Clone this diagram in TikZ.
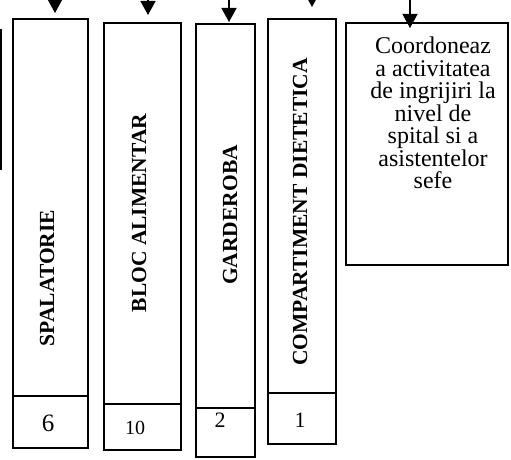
\documentclass[tikz,border=0pt]{standalone}
\usepackage{fontspec}
\setmainfont{Liberation Serif}
\usetikzlibrary{arrows.meta}
\begin{document}
\begin{tikzpicture}[x=1pt,y=-1pt,
  box/.style={draw,line width=1.5pt,rectangle,inner sep=0pt},
  vlabel/.style={rotate=90,font=\fontsize{21.5}{24}\selectfont\bfseries,inner sep=0pt},
  num/.style={inner sep=0pt},
  arr/.style={line width=1.5pt,-{Triangle[length=14pt,width=15pt]}},
  desc/.style={align=center,font=\fontsize{24}{22.5}\selectfont,inner sep=0pt}]
\useasboundingbox (0,0) rectangle (511,460);
\clip (0,0) rectangle (511,460);
% partial box at left edge
\coordinate (l0) at (1,29);
\coordinate (l1) at (1,170);
\draw[line width=1.5pt] (l0) -- (l1);
% SPALATORIE
\node[box,minimum width=75pt,minimum height=377pt] (s1) at (50.5,207.5) {};
\node[box,minimum width=75pt,minimum height=52pt] (s1n) at (50.5,422) {};
\node[vlabel] (s1t) at (47,278) {SPALATORIE};
\node[num,font=\fontsize{25}{28}\selectfont] at (48,423) {6};
% BLOC ALIMENTAR
\node[box,minimum width=77pt,minimum height=381pt] (s2) at (142.5,213.5) {};
\node[box,minimum width=77pt,minimum height=46pt] (s2n) at (142.5,427) {};
\node[vlabel] (s2t) at (139,213) {BLOC ALIMENTAR};
\node[num,font=\fontsize{20}{24}\selectfont] at (135,428) {10};
% GARDEROBA
\node[box,minimum width=59pt,minimum height=384pt] (s3) at (225.5,216) {};
\node[box,minimum width=59pt,minimum height=49pt] (s3n) at (225.5,432.5) {};
\node[vlabel] (s3t) at (230,215) {GARDEROBA};
\node[num,font=\fontsize{22}{26}\selectfont] at (220,420) {2};
% COMPARTIMENT DIETETICA
\node[box,minimum width=68pt,minimum height=374pt] (s4) at (302,206) {};
\node[box,minimum width=68pt,minimum height=51pt] (s4n) at (302,418.5) {};
\node[vlabel] (s4t) at (300,212) {COMPARTIMENT DIETETICA};
\node[num,font=\fontsize{22}{26}\selectfont] at (300,420) {1};
% description box
\node[box,minimum width=162pt,minimum height=242pt] (s5) at (427,144) {};
\node[desc,anchor=north] (s5t) at (433,37) {Coordoneaz\\a activitatea\\de ingrijiri la\\nivel de\\spital si a\\asistentelor\\sefe};
% arrows
\coordinate (a1s) at (55,-5);  \coordinate (a1e) at (55,13);
\coordinate (a2s) at (148,-5); \coordinate (a2e) at (148,15);
\coordinate (a3s) at (229,-5); \coordinate (a3e) at (229,22);
\coordinate (a4s) at (312,-5); \coordinate (a4e) at (312,7);
\coordinate (a5s) at (410,-5); \coordinate (a5e) at (410,28);
\draw[arr] (a1s) -- (a1e);
\draw[arr] (a2s) -- (a2e);
\draw[arr] (a3s) -- (a3e);
\draw[arr] (a4s) -- (a4e);
\draw[arr] (a5s) -- (a5e);
\end{tikzpicture}
\end{document}
